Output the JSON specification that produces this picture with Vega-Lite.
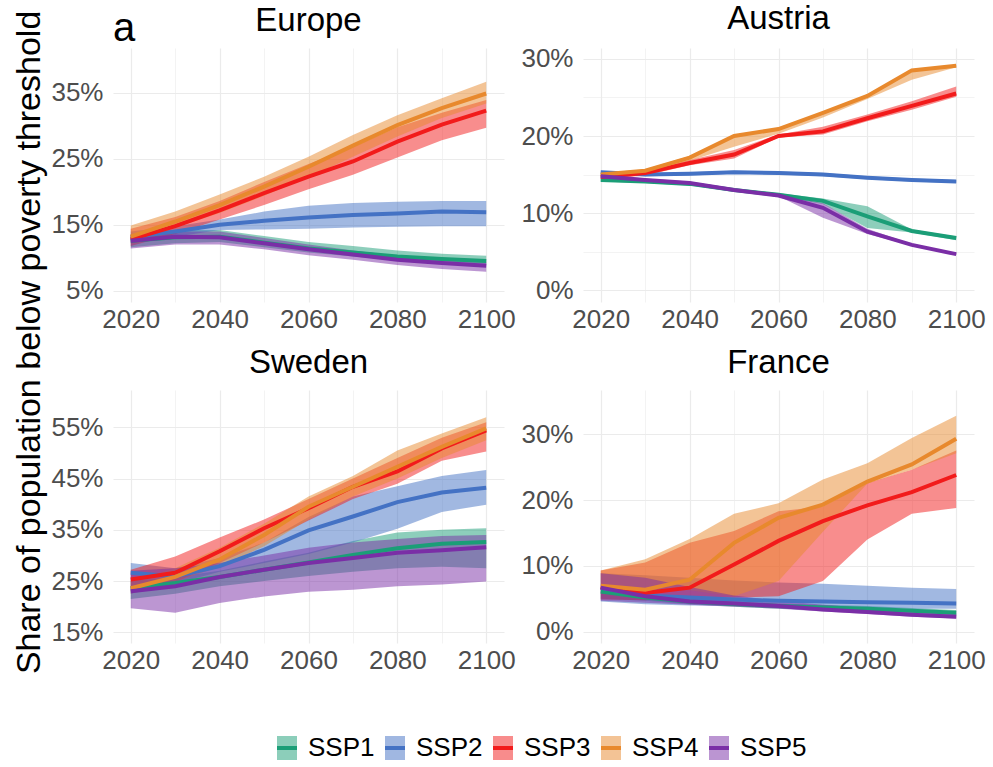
{
  "$schema": "https://vega.github.io/schema/vega-lite/v6.json",
  "autosize": {"type": "pad"},
  "padding": {"left": 12, "top": 2, "right": 5, "bottom": 5},
  "background": "white",
  "title": {"text": "Share of population below poverty threshold", "orient": "left", "anchor": "middle", "fontSize": 34, "offset": 4, "dx": 43},
  "datasets": {
    "d": [
      {"region":"Europe","ssp":"SSP1","year":2020,"mid":12.6,"lo":11.6,"hi":13.6},
      {"region":"Europe","ssp":"SSP1","year":2030,"mid":13.1,"lo":12.2,"hi":14.2},
      {"region":"Europe","ssp":"SSP1","year":2040,"mid":13.2,"lo":12.4,"hi":14.2},
      {"region":"Europe","ssp":"SSP1","year":2050,"mid":12.3,"lo":11.6,"hi":13.3},
      {"region":"Europe","ssp":"SSP1","year":2060,"mid":11.4,"lo":10.8,"hi":12.4},
      {"region":"Europe","ssp":"SSP1","year":2070,"mid":10.8,"lo":10.2,"hi":11.8},
      {"region":"Europe","ssp":"SSP1","year":2080,"mid":10.2,"lo":9.6,"hi":11.1},
      {"region":"Europe","ssp":"SSP1","year":2090,"mid":9.8,"lo":9.2,"hi":10.6},
      {"region":"Europe","ssp":"SSP1","year":2100,"mid":9.5,"lo":9.0,"hi":10.3},
      {"region":"Europe","ssp":"SSP2","year":2020,"mid":13.1,"lo":12.2,"hi":14.0},
      {"region":"Europe","ssp":"SSP2","year":2030,"mid":14.0,"lo":13.2,"hi":14.8},
      {"region":"Europe","ssp":"SSP2","year":2040,"mid":15.0,"lo":14.2,"hi":15.8},
      {"region":"Europe","ssp":"SSP2","year":2050,"mid":15.6,"lo":14.3,"hi":17.0},
      {"region":"Europe","ssp":"SSP2","year":2060,"mid":16.1,"lo":14.4,"hi":17.9},
      {"region":"Europe","ssp":"SSP2","year":2070,"mid":16.5,"lo":14.6,"hi":18.3},
      {"region":"Europe","ssp":"SSP2","year":2080,"mid":16.7,"lo":14.7,"hi":18.5},
      {"region":"Europe","ssp":"SSP2","year":2090,"mid":17.0,"lo":14.8,"hi":18.6},
      {"region":"Europe","ssp":"SSP2","year":2100,"mid":16.9,"lo":14.8,"hi":18.6},
      {"region":"Europe","ssp":"SSP3","year":2020,"mid":12.8,"lo":11.8,"hi":14.4},
      {"region":"Europe","ssp":"SSP3","year":2030,"mid":14.8,"lo":13.6,"hi":16.2},
      {"region":"Europe","ssp":"SSP3","year":2040,"mid":17.2,"lo":15.8,"hi":18.6},
      {"region":"Europe","ssp":"SSP3","year":2050,"mid":19.8,"lo":18.0,"hi":21.5},
      {"region":"Europe","ssp":"SSP3","year":2060,"mid":22.3,"lo":20.4,"hi":24.2},
      {"region":"Europe","ssp":"SSP3","year":2070,"mid":24.6,"lo":22.6,"hi":26.8},
      {"region":"Europe","ssp":"SSP3","year":2080,"mid":27.6,"lo":25.2,"hi":29.8},
      {"region":"Europe","ssp":"SSP3","year":2090,"mid":30.2,"lo":27.8,"hi":32.0},
      {"region":"Europe","ssp":"SSP3","year":2100,"mid":32.3,"lo":29.7,"hi":33.9},
      {"region":"Europe","ssp":"SSP4","year":2020,"mid":13.2,"lo":12.8,"hi":14.9},
      {"region":"Europe","ssp":"SSP4","year":2030,"mid":15.5,"lo":14.6,"hi":17.0},
      {"region":"Europe","ssp":"SSP4","year":2040,"mid":18.0,"lo":16.8,"hi":19.6},
      {"region":"Europe","ssp":"SSP4","year":2050,"mid":20.8,"lo":19.4,"hi":22.3},
      {"region":"Europe","ssp":"SSP4","year":2060,"mid":23.8,"lo":22.2,"hi":25.3},
      {"region":"Europe","ssp":"SSP4","year":2070,"mid":27.0,"lo":25.3,"hi":28.6},
      {"region":"Europe","ssp":"SSP4","year":2080,"mid":30.1,"lo":28.4,"hi":31.6},
      {"region":"Europe","ssp":"SSP4","year":2090,"mid":32.7,"lo":31.2,"hi":34.2},
      {"region":"Europe","ssp":"SSP4","year":2100,"mid":34.9,"lo":33.4,"hi":36.7},
      {"region":"Europe","ssp":"SSP5","year":2020,"mid":12.6,"lo":11.4,"hi":13.4},
      {"region":"Europe","ssp":"SSP5","year":2030,"mid":13.2,"lo":12.0,"hi":14.0},
      {"region":"Europe","ssp":"SSP5","year":2040,"mid":13.1,"lo":12.0,"hi":14.0},
      {"region":"Europe","ssp":"SSP5","year":2050,"mid":12.2,"lo":11.3,"hi":13.0},
      {"region":"Europe","ssp":"SSP5","year":2060,"mid":11.3,"lo":10.4,"hi":12.0},
      {"region":"Europe","ssp":"SSP5","year":2070,"mid":10.5,"lo":9.7,"hi":11.1},
      {"region":"Europe","ssp":"SSP5","year":2080,"mid":9.7,"lo":8.9,"hi":10.3},
      {"region":"Europe","ssp":"SSP5","year":2090,"mid":9.2,"lo":8.3,"hi":9.8},
      {"region":"Europe","ssp":"SSP5","year":2100,"mid":8.8,"lo":7.9,"hi":9.4},

      {"region":"Austria","ssp":"SSP1","year":2020,"mid":14.3,"lo":14.1,"hi":14.5},
      {"region":"Austria","ssp":"SSP1","year":2030,"mid":14.1,"lo":13.9,"hi":14.3},
      {"region":"Austria","ssp":"SSP1","year":2040,"mid":13.8,"lo":13.6,"hi":14.0},
      {"region":"Austria","ssp":"SSP1","year":2050,"mid":13.0,"lo":12.8,"hi":13.2},
      {"region":"Austria","ssp":"SSP1","year":2060,"mid":12.4,"lo":12.2,"hi":12.6},
      {"region":"Austria","ssp":"SSP1","year":2070,"mid":11.6,"lo":11.2,"hi":11.9},
      {"region":"Austria","ssp":"SSP1","year":2080,"mid":9.6,"lo":8.1,"hi":10.9},
      {"region":"Austria","ssp":"SSP1","year":2090,"mid":7.7,"lo":7.5,"hi":7.9},
      {"region":"Austria","ssp":"SSP1","year":2100,"mid":6.8,"lo":6.5,"hi":7.0},
      {"region":"Austria","ssp":"SSP2","year":2020,"mid":15.3,"lo":15.0,"hi":15.5},
      {"region":"Austria","ssp":"SSP2","year":2030,"mid":15.0,"lo":14.8,"hi":15.2},
      {"region":"Austria","ssp":"SSP2","year":2040,"mid":15.1,"lo":14.9,"hi":15.3},
      {"region":"Austria","ssp":"SSP2","year":2050,"mid":15.3,"lo":15.1,"hi":15.5},
      {"region":"Austria","ssp":"SSP2","year":2060,"mid":15.2,"lo":15.0,"hi":15.4},
      {"region":"Austria","ssp":"SSP2","year":2070,"mid":15.0,"lo":14.8,"hi":15.2},
      {"region":"Austria","ssp":"SSP2","year":2080,"mid":14.6,"lo":14.4,"hi":14.8},
      {"region":"Austria","ssp":"SSP2","year":2090,"mid":14.3,"lo":14.1,"hi":14.5},
      {"region":"Austria","ssp":"SSP2","year":2100,"mid":14.1,"lo":13.9,"hi":14.3},
      {"region":"Austria","ssp":"SSP3","year":2020,"mid":14.7,"lo":14.4,"hi":15.0},
      {"region":"Austria","ssp":"SSP3","year":2030,"mid":15.2,"lo":14.9,"hi":15.5},
      {"region":"Austria","ssp":"SSP3","year":2040,"mid":16.5,"lo":16.2,"hi":16.9},
      {"region":"Austria","ssp":"SSP3","year":2050,"mid":17.6,"lo":17.1,"hi":18.2},
      {"region":"Austria","ssp":"SSP3","year":2060,"mid":20.0,"lo":19.8,"hi":20.2},
      {"region":"Austria","ssp":"SSP3","year":2070,"mid":20.6,"lo":20.2,"hi":21.2},
      {"region":"Austria","ssp":"SSP3","year":2080,"mid":22.3,"lo":21.9,"hi":22.8},
      {"region":"Austria","ssp":"SSP3","year":2090,"mid":23.9,"lo":23.4,"hi":24.5},
      {"region":"Austria","ssp":"SSP3","year":2100,"mid":25.5,"lo":25.1,"hi":26.4},
      {"region":"Austria","ssp":"SSP4","year":2020,"mid":15.0,"lo":14.8,"hi":15.2},
      {"region":"Austria","ssp":"SSP4","year":2030,"mid":15.5,"lo":15.3,"hi":15.7},
      {"region":"Austria","ssp":"SSP4","year":2040,"mid":17.2,"lo":16.8,"hi":17.4},
      {"region":"Austria","ssp":"SSP4","year":2050,"mid":20.0,"lo":18.6,"hi":20.1},
      {"region":"Austria","ssp":"SSP4","year":2060,"mid":20.9,"lo":20.3,"hi":21.1},
      {"region":"Austria","ssp":"SSP4","year":2070,"mid":23.0,"lo":22.4,"hi":23.1},
      {"region":"Austria","ssp":"SSP4","year":2080,"mid":25.2,"lo":24.8,"hi":25.3},
      {"region":"Austria","ssp":"SSP4","year":2090,"mid":28.5,"lo":27.3,"hi":28.6},
      {"region":"Austria","ssp":"SSP4","year":2100,"mid":29.1,"lo":28.9,"hi":29.2},
      {"region":"Austria","ssp":"SSP5","year":2020,"mid":14.8,"lo":14.6,"hi":15.0},
      {"region":"Austria","ssp":"SSP5","year":2030,"mid":14.3,"lo":14.1,"hi":14.5},
      {"region":"Austria","ssp":"SSP5","year":2040,"mid":13.9,"lo":13.7,"hi":14.1},
      {"region":"Austria","ssp":"SSP5","year":2050,"mid":13.0,"lo":12.8,"hi":13.2},
      {"region":"Austria","ssp":"SSP5","year":2060,"mid":12.3,"lo":12.2,"hi":12.4},
      {"region":"Austria","ssp":"SSP5","year":2070,"mid":10.7,"lo":9.4,"hi":11.3},
      {"region":"Austria","ssp":"SSP5","year":2080,"mid":7.6,"lo":7.3,"hi":8.0},
      {"region":"Austria","ssp":"SSP5","year":2090,"mid":5.9,"lo":5.8,"hi":6.0},
      {"region":"Austria","ssp":"SSP5","year":2100,"mid":4.7,"lo":4.6,"hi":4.8},

      {"region":"Sweden","ssp":"SSP1","year":2020,"mid":23.6,"lo":21.5,"hi":25.0},
      {"region":"Sweden","ssp":"SSP1","year":2030,"mid":24.6,"lo":22.5,"hi":25.8},
      {"region":"Sweden","ssp":"SSP1","year":2040,"mid":25.8,"lo":24.0,"hi":27.0},
      {"region":"Sweden","ssp":"SSP1","year":2050,"mid":27.2,"lo":25.0,"hi":28.8},
      {"region":"Sweden","ssp":"SSP1","year":2060,"mid":28.6,"lo":26.0,"hi":30.5},
      {"region":"Sweden","ssp":"SSP1","year":2070,"mid":30.1,"lo":26.8,"hi":32.8},
      {"region":"Sweden","ssp":"SSP1","year":2080,"mid":31.4,"lo":27.5,"hi":34.5},
      {"region":"Sweden","ssp":"SSP1","year":2090,"mid":32.3,"lo":27.8,"hi":35.0},
      {"region":"Sweden","ssp":"SSP1","year":2100,"mid":32.6,"lo":27.5,"hi":35.3},
      {"region":"Sweden","ssp":"SSP2","year":2020,"mid":26.6,"lo":22.5,"hi":28.5},
      {"region":"Sweden","ssp":"SSP2","year":2030,"mid":25.9,"lo":24.5,"hi":27.5},
      {"region":"Sweden","ssp":"SSP2","year":2040,"mid":27.9,"lo":26.8,"hi":29.5},
      {"region":"Sweden","ssp":"SSP2","year":2050,"mid":31.1,"lo":28.5,"hi":32.5},
      {"region":"Sweden","ssp":"SSP2","year":2060,"mid":34.9,"lo":30.3,"hi":37.5},
      {"region":"Sweden","ssp":"SSP2","year":2070,"mid":37.6,"lo":32.5,"hi":41.5},
      {"region":"Sweden","ssp":"SSP2","year":2080,"mid":40.4,"lo":35.2,"hi":43.5},
      {"region":"Sweden","ssp":"SSP2","year":2090,"mid":42.3,"lo":38.5,"hi":45.5},
      {"region":"Sweden","ssp":"SSP2","year":2100,"mid":43.2,"lo":39.9,"hi":46.7},
      {"region":"Sweden","ssp":"SSP3","year":2020,"mid":25.3,"lo":23.0,"hi":27.2},
      {"region":"Sweden","ssp":"SSP3","year":2030,"mid":26.6,"lo":24.8,"hi":29.8},
      {"region":"Sweden","ssp":"SSP3","year":2040,"mid":30.8,"lo":28.5,"hi":33.5},
      {"region":"Sweden","ssp":"SSP3","year":2050,"mid":35.3,"lo":32.5,"hi":37.0},
      {"region":"Sweden","ssp":"SSP3","year":2060,"mid":39.2,"lo":36.8,"hi":41.0},
      {"region":"Sweden","ssp":"SSP3","year":2070,"mid":43.4,"lo":41.0,"hi":45.0},
      {"region":"Sweden","ssp":"SSP3","year":2080,"mid":46.4,"lo":44.0,"hi":49.0},
      {"region":"Sweden","ssp":"SSP3","year":2090,"mid":50.9,"lo":48.5,"hi":53.0},
      {"region":"Sweden","ssp":"SSP3","year":2100,"mid":54.4,"lo":50.3,"hi":56.0},
      {"region":"Sweden","ssp":"SSP4","year":2020,"mid":23.6,"lo":22.5,"hi":25.0},
      {"region":"Sweden","ssp":"SSP4","year":2030,"mid":25.8,"lo":24.8,"hi":27.5},
      {"region":"Sweden","ssp":"SSP4","year":2040,"mid":29.2,"lo":27.8,"hi":31.5},
      {"region":"Sweden","ssp":"SSP4","year":2050,"mid":34.0,"lo":31.8,"hi":36.2},
      {"region":"Sweden","ssp":"SSP4","year":2060,"mid":39.5,"lo":37.0,"hi":41.5},
      {"region":"Sweden","ssp":"SSP4","year":2070,"mid":43.4,"lo":41.5,"hi":45.5},
      {"region":"Sweden","ssp":"SSP4","year":2080,"mid":47.3,"lo":45.0,"hi":50.5},
      {"region":"Sweden","ssp":"SSP4","year":2090,"mid":51.2,"lo":49.0,"hi":53.8},
      {"region":"Sweden","ssp":"SSP4","year":2100,"mid":54.8,"lo":52.5,"hi":57.0},
      {"region":"Sweden","ssp":"SSP5","year":2020,"mid":23.0,"lo":19.7,"hi":27.0},
      {"region":"Sweden","ssp":"SSP5","year":2030,"mid":24.0,"lo":18.8,"hi":27.5},
      {"region":"Sweden","ssp":"SSP5","year":2040,"mid":25.8,"lo":20.7,"hi":28.5},
      {"region":"Sweden","ssp":"SSP5","year":2050,"mid":27.2,"lo":22.0,"hi":30.0},
      {"region":"Sweden","ssp":"SSP5","year":2060,"mid":28.5,"lo":22.9,"hi":31.5},
      {"region":"Sweden","ssp":"SSP5","year":2070,"mid":29.5,"lo":23.3,"hi":32.5},
      {"region":"Sweden","ssp":"SSP5","year":2080,"mid":30.5,"lo":24.0,"hi":33.2},
      {"region":"Sweden","ssp":"SSP5","year":2090,"mid":31.0,"lo":24.3,"hi":33.8},
      {"region":"Sweden","ssp":"SSP5","year":2100,"mid":31.6,"lo":24.9,"hi":34.0},

      {"region":"France","ssp":"SSP1","year":2020,"mid":6.1,"lo":5.0,"hi":6.8},
      {"region":"France","ssp":"SSP1","year":2030,"mid":5.2,"lo":4.7,"hi":5.7},
      {"region":"France","ssp":"SSP1","year":2040,"mid":4.6,"lo":4.2,"hi":5.0},
      {"region":"France","ssp":"SSP1","year":2050,"mid":4.2,"lo":3.8,"hi":4.6},
      {"region":"France","ssp":"SSP1","year":2060,"mid":3.9,"lo":3.5,"hi":4.3},
      {"region":"France","ssp":"SSP1","year":2070,"mid":3.7,"lo":3.3,"hi":4.1},
      {"region":"France","ssp":"SSP1","year":2080,"mid":3.5,"lo":3.1,"hi":3.9},
      {"region":"France","ssp":"SSP1","year":2090,"mid":3.2,"lo":2.8,"hi":3.6},
      {"region":"France","ssp":"SSP1","year":2100,"mid":2.9,"lo":2.5,"hi":3.3},
      {"region":"France","ssp":"SSP2","year":2020,"mid":6.7,"lo":4.6,"hi":8.9},
      {"region":"France","ssp":"SSP2","year":2030,"mid":5.5,"lo":4.2,"hi":8.6},
      {"region":"France","ssp":"SSP2","year":2040,"mid":5.2,"lo":4.0,"hi":8.2},
      {"region":"France","ssp":"SSP2","year":2050,"mid":4.9,"lo":3.9,"hi":7.8},
      {"region":"France","ssp":"SSP2","year":2060,"mid":4.7,"lo":3.8,"hi":7.5},
      {"region":"France","ssp":"SSP2","year":2070,"mid":4.6,"lo":3.7,"hi":7.3},
      {"region":"France","ssp":"SSP2","year":2080,"mid":4.5,"lo":3.6,"hi":7.0},
      {"region":"France","ssp":"SSP2","year":2090,"mid":4.4,"lo":3.5,"hi":6.7},
      {"region":"France","ssp":"SSP2","year":2100,"mid":4.3,"lo":3.5,"hi":6.5},
      {"region":"France","ssp":"SSP3","year":2020,"mid":6.8,"lo":4.9,"hi":9.3},
      {"region":"France","ssp":"SSP3","year":2030,"mid":5.9,"lo":4.8,"hi":10.5},
      {"region":"France","ssp":"SSP3","year":2040,"mid":6.7,"lo":5.4,"hi":13.5},
      {"region":"France","ssp":"SSP3","year":2050,"mid":10.2,"lo":5.2,"hi":15.3},
      {"region":"France","ssp":"SSP3","year":2060,"mid":13.8,"lo":5.4,"hi":18.3},
      {"region":"France","ssp":"SSP3","year":2070,"mid":16.8,"lo":7.7,"hi":19.0},
      {"region":"France","ssp":"SSP3","year":2080,"mid":19.2,"lo":14.0,"hi":22.6},
      {"region":"France","ssp":"SSP3","year":2090,"mid":21.2,"lo":17.9,"hi":24.6},
      {"region":"France","ssp":"SSP3","year":2100,"mid":23.8,"lo":18.8,"hi":27.5},
      {"region":"France","ssp":"SSP4","year":2020,"mid":7.0,"lo":7.0,"hi":9.3},
      {"region":"France","ssp":"SSP4","year":2030,"mid":6.4,"lo":6.0,"hi":11.0},
      {"region":"France","ssp":"SSP4","year":2040,"mid":7.9,"lo":6.3,"hi":14.1},
      {"region":"France","ssp":"SSP4","year":2050,"mid":13.5,"lo":5.4,"hi":17.9},
      {"region":"France","ssp":"SSP4","year":2060,"mid":17.3,"lo":7.7,"hi":19.5},
      {"region":"France","ssp":"SSP4","year":2070,"mid":19.3,"lo":15.2,"hi":23.1},
      {"region":"France","ssp":"SSP4","year":2080,"mid":22.8,"lo":22.5,"hi":25.6},
      {"region":"France","ssp":"SSP4","year":2090,"mid":25.4,"lo":24.6,"hi":29.4},
      {"region":"France","ssp":"SSP4","year":2100,"mid":29.3,"lo":27.1,"hi":32.8},
      {"region":"France","ssp":"SSP5","year":2020,"mid":6.7,"lo":4.7,"hi":8.9},
      {"region":"France","ssp":"SSP5","year":2030,"mid":5.4,"lo":4.4,"hi":8.2},
      {"region":"France","ssp":"SSP5","year":2040,"mid":4.6,"lo":4.1,"hi":6.8},
      {"region":"France","ssp":"SSP5","year":2050,"mid":4.3,"lo":3.8,"hi":5.5},
      {"region":"France","ssp":"SSP5","year":2060,"mid":3.9,"lo":3.5,"hi":4.7},
      {"region":"France","ssp":"SSP5","year":2070,"mid":3.4,"lo":3.1,"hi":4.1},
      {"region":"France","ssp":"SSP5","year":2080,"mid":3.0,"lo":2.7,"hi":3.6},
      {"region":"France","ssp":"SSP5","year":2090,"mid":2.6,"lo":2.3,"hi":3.1},
      {"region":"France","ssp":"SSP5","year":2100,"mid":2.3,"lo":2.0,"hi":2.8}
    ]
  },
  "vconcat": [
    {
      "title": {"text": "a", "anchor": "start", "frame": "group", "fontSize": 40, "offset": 0, "dy": 46},
      "columns": 2,
      "spacing": {"row": 88, "column": 79},
      "bounds": "flush",
      "concat": [
        {
          "width": 391, "height": 254,
          "title": {"text": "Europe"},
          "data": {"name": "d"},
          "transform": [{"filter": "datum.region === 'Europe'"}],
          "encoding": {
            "x": {"field": "year", "type": "quantitative", "scale": {"domain": [2016, 2104], "nice": false, "zero": false},
              "axis": {"values": [2020, 2030, 2040, 2050, 2060, 2070, 2080, 2090, 2100], "labelExpr": "datum.value % 20 === 0 ? datum.label : ''", "format": "d",
                "gridWidth": {"condition": {"test": "datum.value % 20 === 0", "value": 1.2}, "value": 0.6}}}
          },
          "layer": [
            {"mark": {"type": "area", "opacity": 0.5},
             "encoding": {
               "y": {"field": "lo", "type": "quantitative", "scale": {"domain": [3.3, 41.8], "nice": false, "zero": false},
                 "axis": {"values": [5, 10, 15, 20, 25, 30, 35, 40], "labelExpr": "datum.value % 10 === 5 ? datum.value + '%' : ''",
                   "gridWidth": {"condition": {"test": "datum.value % 10 === 5", "value": 1.2}, "value": 0.6}}},
               "y2": {"field": "hi"},
               "fill": {"field": "ssp", "type": "nominal", "scale": {"domain": ["SSP1", "SSP2", "SSP3", "SSP4", "SSP5"], "range": ["#1b9e77", "#4472c4", "#f21b1b", "#e8892d", "#7a2ea6"]},
                 "legend": {"orient": "none", "legendX": 160, "legendY": 686, "direction": "horizontal", "title": null, "symbolType": "M-0.833,-1H0.833V1H-0.833Z", "symbolSize": 576, "symbolOpacity": 0.5, "symbolStrokeColor": "transparent", "symbolStrokeWidth": 4, "labelOpacity": 0, "labelFontSize": 26, "labelOffset": 7, "columnPadding": 2}}
             }},
            {"mark": {"type": "line", "strokeWidth": 4},
             "encoding": {
               "y": {"field": "mid", "type": "quantitative"},
               "stroke": {"field": "ssp", "type": "nominal", "scale": {"range": ["#1b9e77", "#4472c4", "#f21b1b", "#e8892d", "#7a2ea6"]},
                 "legend": {"orient": "none", "legendX": 160, "legendY": 686, "direction": "horizontal", "title": null, "symbolType": "M-0.833,-1M-0.833,1M-0.833,0H0.833", "symbolSize": 576, "symbolStrokeWidth": 4, "labelFontSize": 26, "labelColor": "#000000", "labelOffset": 7, "columnPadding": 2}}
             }}
          ]
        },
        {
          "width": 391, "height": 254,
          "title": {"text": "Austria"},
          "data": {"name": "d"},
          "transform": [{"filter": "datum.region === 'Austria'"}],
          "encoding": {
            "x": {"field": "year", "type": "quantitative", "scale": {"domain": [2016, 2104], "nice": false, "zero": false},
              "axis": {"values": [2020, 2030, 2040, 2050, 2060, 2070, 2080, 2090, 2100], "labelExpr": "datum.value % 20 === 0 ? datum.label : ''", "format": "d",
                "gridWidth": {"condition": {"test": "datum.value % 20 === 0", "value": 1.2}, "value": 0.6}}}
          },
          "layer": [
            {"mark": {"type": "area", "opacity": 0.5},
             "encoding": {
               "y": {"field": "lo", "type": "quantitative", "scale": {"domain": [-1.5, 31.4], "nice": false, "zero": false},
                 "axis": {"values": [0, 5, 10, 15, 20, 25, 30], "labelExpr": "datum.value % 10 === 0 ? datum.value + '%' : ''",
                   "gridWidth": {"condition": {"test": "datum.value % 10 === 0", "value": 1.2}, "value": 0.6}}},
               "y2": {"field": "hi"},
               "fill": {"field": "ssp", "type": "nominal"}
             }},
            {"mark": {"type": "line", "strokeWidth": 4},
             "encoding": {
               "y": {"field": "mid", "type": "quantitative"},
               "stroke": {"field": "ssp", "type": "nominal"}
             }}
          ]
        },
        {
          "width": 391, "height": 253,
          "title": {"text": "Sweden"},
          "data": {"name": "d"},
          "transform": [{"filter": "datum.region === 'Sweden'"}],
          "encoding": {
            "x": {"field": "year", "type": "quantitative", "scale": {"domain": [2016, 2104], "nice": false, "zero": false},
              "axis": {"values": [2020, 2030, 2040, 2050, 2060, 2070, 2080, 2090, 2100], "labelExpr": "datum.value % 20 === 0 ? datum.label : ''", "format": "d",
                "gridWidth": {"condition": {"test": "datum.value % 20 === 0", "value": 1.2}, "value": 0.6}}}
          },
          "layer": [
            {"mark": {"type": "area", "opacity": 0.5},
             "encoding": {
               "y": {"field": "lo", "type": "quantitative", "scale": {"domain": [12.9, 62.3], "nice": false, "zero": false},
                 "axis": {"values": [15, 20, 25, 30, 35, 40, 45, 50, 55, 60], "labelExpr": "datum.value % 10 === 5 ? datum.value + '%' : ''",
                   "gridWidth": {"condition": {"test": "datum.value % 10 === 5", "value": 1.2}, "value": 0.6}}},
               "y2": {"field": "hi"},
               "fill": {"field": "ssp", "type": "nominal"}
             }},
            {"mark": {"type": "line", "strokeWidth": 4},
             "encoding": {
               "y": {"field": "mid", "type": "quantitative"},
               "stroke": {"field": "ssp", "type": "nominal"}
             }}
          ]
        },
        {
          "width": 391, "height": 253,
          "title": {"text": "France"},
          "data": {"name": "d"},
          "transform": [{"filter": "datum.region === 'France'"}],
          "encoding": {
            "x": {"field": "year", "type": "quantitative", "scale": {"domain": [2016, 2104], "nice": false, "zero": false},
              "axis": {"values": [2020, 2030, 2040, 2050, 2060, 2070, 2080, 2090, 2100], "labelExpr": "datum.value % 20 === 0 ? datum.label : ''", "format": "d",
                "gridWidth": {"condition": {"test": "datum.value % 20 === 0", "value": 1.2}, "value": 0.6}}}
          },
          "layer": [
            {"mark": {"type": "area", "opacity": 0.5},
             "encoding": {
               "y": {"field": "lo", "type": "quantitative", "scale": {"domain": [-1.7, 36.7], "nice": false, "zero": false},
                 "axis": {"values": [0, 5, 10, 15, 20, 25, 30, 35], "labelExpr": "datum.value % 10 === 0 ? datum.value + '%' : ''",
                   "gridWidth": {"condition": {"test": "datum.value % 10 === 0", "value": 1.2}, "value": 0.6}}},
               "y2": {"field": "hi"},
               "fill": {"field": "ssp", "type": "nominal"}
             }},
            {"mark": {"type": "line", "strokeWidth": 4},
             "encoding": {
               "y": {"field": "mid", "type": "quantitative"},
               "stroke": {"field": "ssp", "type": "nominal"}
             }}
          ]
        }
      ]
    }
  ],
  "config": {
    "font": "Liberation Sans",
    "view": {"stroke": null},
    "axis": {"domain": false, "ticks": false, "title": null, "gridColor": "#ebebeb", "labelFont": "Liberation Sans", "labelFontSize": 26, "labelColor": "#4d4d4d", "labelPadding": 10, "labelFlush": false, "labelOverlap": false},
    "axisX": {"labelPadding": 4},
    "title": {"font": "Liberation Sans", "fontSize": 33, "fontWeight": "normal", "color": "#000000", "offset": 10},
    "legend": {"labelFont": "Liberation Sans", "labelFontSize": 26, "labelColor": "#000000"}
  }
}
